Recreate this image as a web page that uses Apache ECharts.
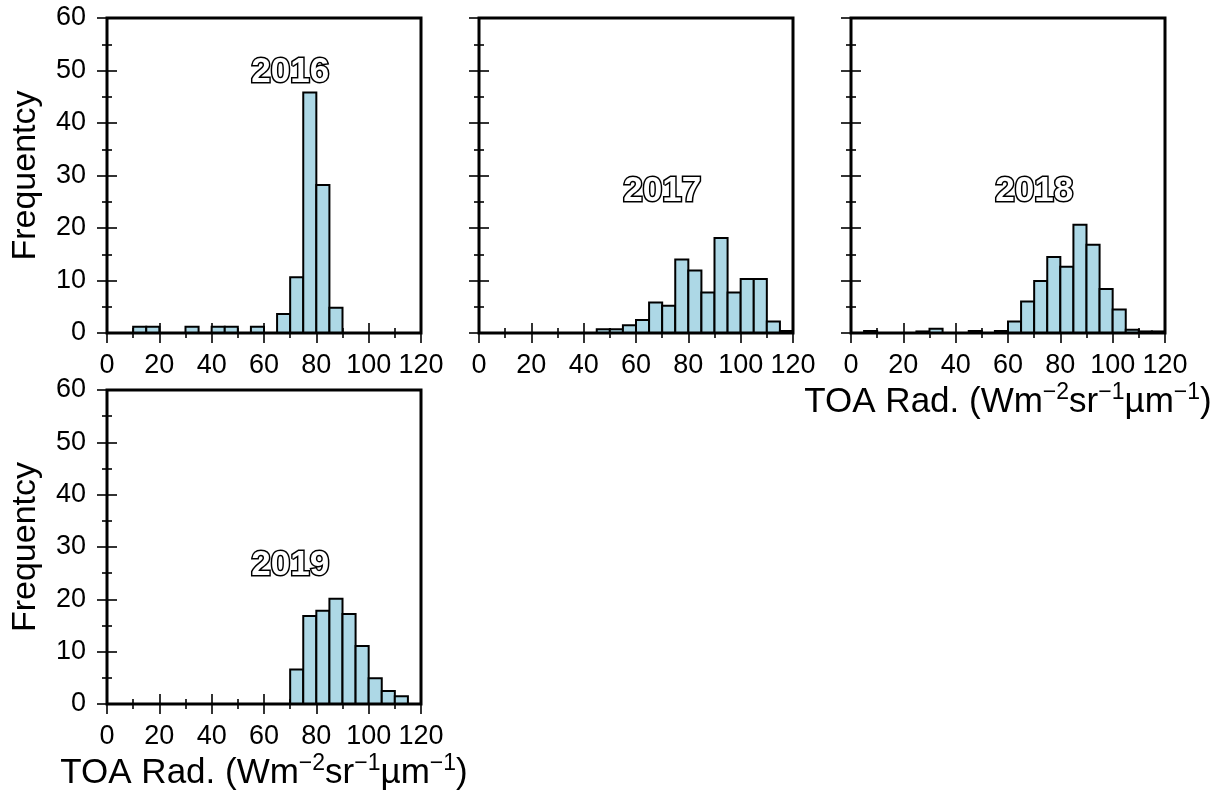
<!DOCTYPE html>
<html>
<head>
<meta charset="utf-8">
<title>TOA radiance histograms 2016-2019</title>
<script src="https://cdn.jsdelivr.net/npm/echarts@6/dist/echarts.min.js"></script>
<style>
  html, body { margin: 0; padding: 0; background: #fff; }
  #chart { width: 1222px; height: 799px; }
</style>
</head>
<body>
<div id="chart"></div>
<script>
// Histogram bins: 5 Wm-2sr-1um-1 wide, starting at 0
const binStarts = [0, 5, 10, 15, 20, 25, 30, 35, 40, 45, 50, 55,
                   60, 65, 70, 75, 80, 85, 90, 95, 100, 105, 110, 115];
const binWidth = 5;

// Frequency per bin for each year
const freq2016 = [0, 0, 1.2, 1.2, 0, 0, 1.2, 0, 1.2, 1.2, 0, 1.2,
                  0, 3.6, 10.6, 45.8, 28.2, 4.8, 0, 0, 0, 0, 0, 0];
const freq2017 = [0, 0, 0, 0, 0, 0, 0, 0, 0, 0.7, 0.7, 1.5,
                  2.5, 5.8, 5.2, 14.0, 11.9, 7.7, 18.1, 7.7, 10.3, 10.3, 2.2, 0.4];
const freq2018 = [0, 0.4, 0, 0, 0, 0.3, 0.8, 0, 0, 0.4, 0, 0.4,
                  2.2, 6.0, 9.9, 14.5, 12.6, 20.6, 16.8, 8.4, 4.5, 0.6, 0.3, 0.3];
const freq2019 = [0, 0, 0, 0, 0, 0, 0, 0, 0, 0, 0, 0,
                  0, 0, 6.6, 16.8, 17.8, 20.1, 17.2, 11.1, 4.9, 2.5, 1.5, 0];

const years = ['2016', '2017', '2018', '2019'];
const xTicks = [0, 20, 40, 60, 80, 100, 120];
const yTicks = [0, 10, 20, 30, 40, 50, 60];

const xTitle = 'TOA Rad. (Wm{s|\u22122}sr{s|\u22121}\u00b5m{s|\u22121})';
const yTitle = 'Frequentcy';

const FONT = '"Liberation Sans", Arial, Helvetica, sans-serif';

// Panel layout
const panels = [
  { year: years[0], values: freq2016, grid: { left: 107, top: 18, width: 314, height: 315 },
    yLabels: true, xName: false, yearAt: [70, 49.6] },
  { year: years[1], values: freq2017, grid: { left: 479, top: 18, width: 314, height: 315 },
    yLabels: false, xName: false, yearAt: [70, 27] },
  { year: years[2], values: freq2018, grid: { left: 851, top: 18, width: 314, height: 315 },
    yLabels: false, xName: true, yearAt: [70, 27] },
  { year: years[3], values: freq2019, grid: { left: 107, top: 390, width: 314, height: 314 },
    yLabels: true, xName: true, yearAt: [70, 26.5] }
];

const xMin = xTicks[0], xMax = xTicks[xTicks.length - 1], xStep = xTicks[1] - xTicks[0];
const yMin = yTicks[0], yMax = yTicks[yTicks.length - 1], yStep = yTicks[1] - yTicks[0];

const tickStyle = { show: true, length: 10, lineStyle: { color: '#000', width: 1.6 } };
const minorStyle = { show: true, splitNumber: 2, length: 5, lineStyle: { color: '#000', width: 1.6 } };

function renderBin(params, api) {
  const x0 = api.value(0), x1 = api.value(1), h = api.value(2);
  if (!(h > 0)) return null;
  const top = api.coord([x0, h]);
  const base = api.coord([x1, 0]);
  return {
    type: 'rect',
    shape: { x: top[0], y: top[1], width: base[0] - top[0], height: base[1] - top[1] },
    style: { fill: '#add8e6', stroke: '#000', lineWidth: 2 }
  };
}

// Outlined year tag placed in data space
function yearTag(year) {
  return function (params, api) {
    const pt = api.coord([api.value(0), api.value(1)]);
    return {
      type: 'text',
      x: pt[0], y: pt[1],
      style: {
        text: year,
        fill: '#fff', stroke: '#000', lineWidth: 3, strokeFirst: true,
        fontSize: 35, fontWeight: 'bold', fontFamily: FONT,
        align: 'center', verticalAlign: 'middle'
      }
    };
  };
}

const grid = [], xAxis = [], yAxis = [], series = [];

panels.forEach((p, i) => {
  grid.push(Object.assign({
    show: true, borderWidth: 3, borderColor: '#000',
    backgroundColor: 'transparent', z: 5
  }, p.grid));

  const xBase = {
    type: 'value', gridIndex: i, min: xMin, max: xMax, interval: xStep,
    axisLine: { show: false }, splitLine: { show: false },
    axisTick: tickStyle, minorTick: minorStyle
  };
  xAxis.push(Object.assign({}, xBase, {
    position: 'bottom',
    axisLabel: { show: true, margin: 19, color: '#000', fontSize: 27, fontFamily: FONT },
    name: p.xName ? xTitle : '',
    nameLocation: 'middle', nameGap: 48,
    nameTextStyle: {
      color: '#000', fontSize: 35, fontFamily: FONT, lineHeight: 42,
      rich: { s: { fontSize: 23, fontFamily: FONT, color: '#000', verticalAlign: 'top', lineHeight: 28 } }
    }
  }));
  xAxis.push(Object.assign({}, xBase, { position: 'top', axisLabel: { show: false } }));

  const yBase = {
    type: 'value', gridIndex: i, min: yMin, max: yMax, interval: yStep,
    axisLine: { show: false }, splitLine: { show: false },
    axisTick: tickStyle, minorTick: minorStyle
  };
  yAxis.push(Object.assign({}, yBase, {
    position: 'left',
    axisLabel: { show: p.yLabels, margin: 21, color: '#000', fontSize: 27, fontFamily: FONT },
    name: p.yLabels ? yTitle : '',
    nameLocation: 'middle', nameGap: 64,
    nameTextStyle: { color: '#000', fontSize: 34, fontFamily: FONT }
  }));
  yAxis.push(Object.assign({}, yBase, { position: 'right', axisLabel: { show: false } }));

  series.push({
    type: 'custom',
    xAxisIndex: 2 * i, yAxisIndex: 2 * i,
    renderItem: renderBin,
    encode: { x: [0, 1], y: 2 },
    data: binStarts.map((s, k) => [s, s + binWidth, p.values[k]]),
    silent: true, z: 2
  });

  series.push({
    type: 'custom',
    xAxisIndex: 2 * i, yAxisIndex: 2 * i,
    renderItem: yearTag(p.year),
    encode: { x: 0, y: 1 },
    data: [p.yearAt],
    silent: true, z: 4
  });
});

const chart = echarts.init(document.getElementById('chart'), null, { renderer: 'canvas' });
chart.setOption({
  animation: false,
  backgroundColor: '#fff',
  grid, xAxis, yAxis, series
});
</script>
</body>
</html>
